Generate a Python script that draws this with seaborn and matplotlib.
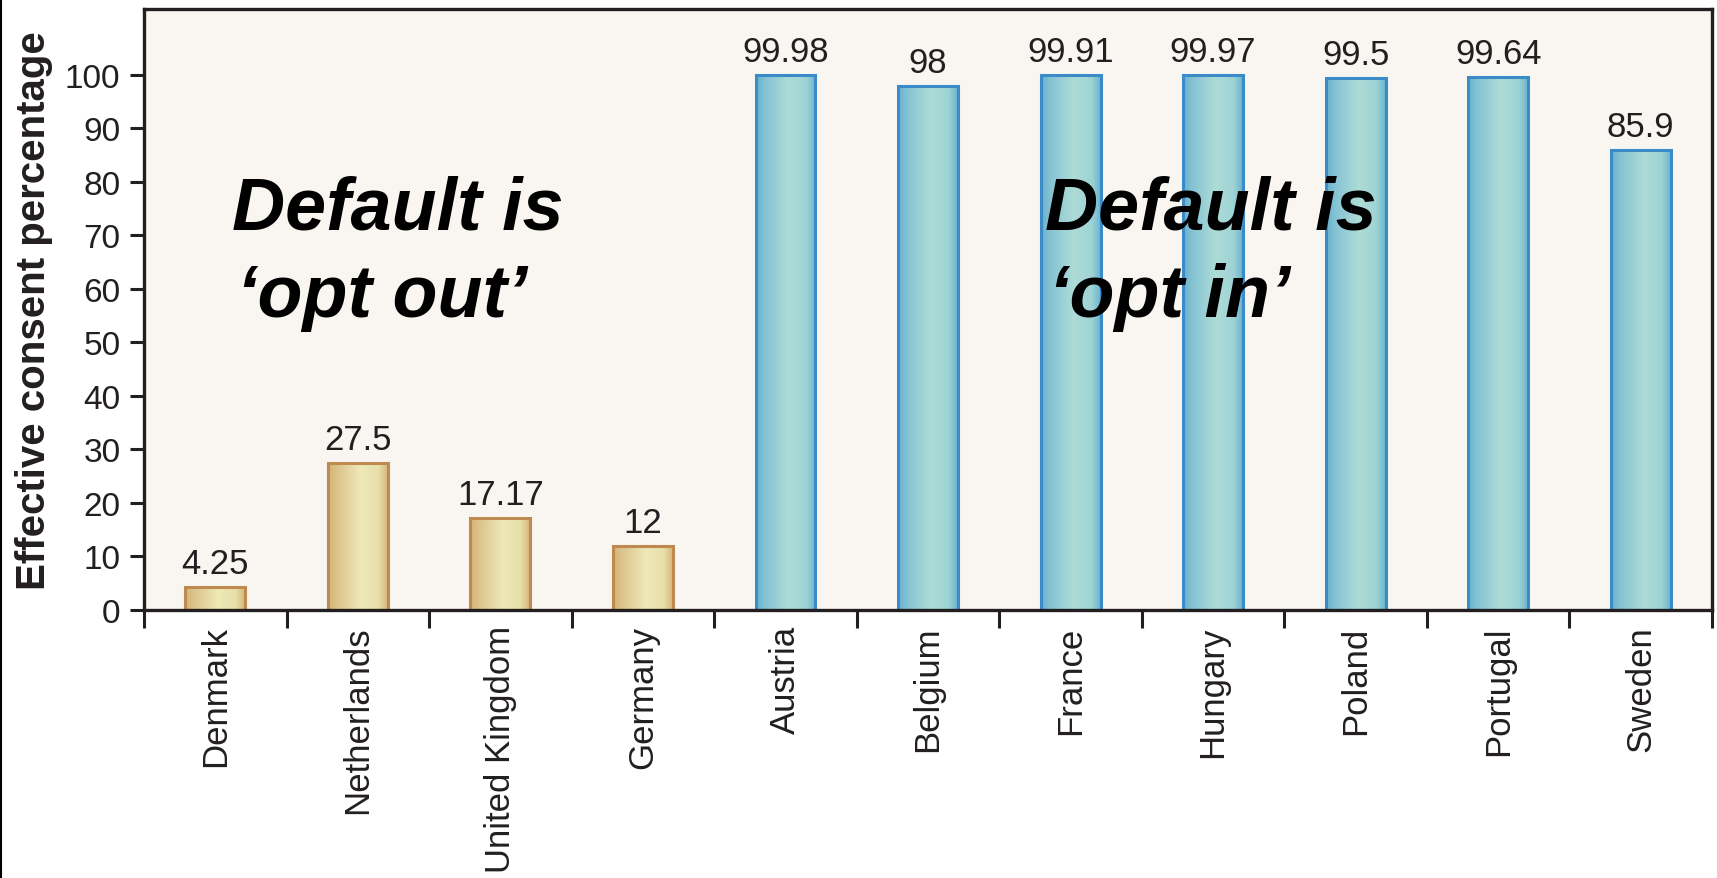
import numpy as np
import pandas as pd
import matplotlib
matplotlib.use('Agg')
import matplotlib.pyplot as plt
from matplotlib.colors import to_rgb
from matplotlib.lines import Line2D
import seaborn as sns

# data
countries = ['Denmark', 'Netherlands', 'United Kingdom', 'Germany', 'Austria',
             'Belgium', 'France', 'Hungary', 'Poland', 'Portugal', 'Sweden']
consent = [4.25, 27.5, 17.17, 12, 99.98, 98, 99.91, 99.97, 99.5, 99.64, 85.9]
value_labels = ['4.25', '27.5', '17.17', '12', '99.98', '98', '99.91',
                '99.97', '99.5', '99.64', '85.9']
default = ['opt out'] * 4 + ['opt in'] * 7

edge_colors = {'opt out': '#BF8A50', 'opt in': '#3C8BC9'}
grad_stops = {'opt out': ['#D3B478', '#DCC48C', '#EEE9B7', '#E8DFA9', '#D5B87E'],
              'opt in': ['#68B1CE', '#85C3D3', '#AEDCD7', '#9ED3D5', '#6CB4CF']}
stop_pos = [0.0, 0.15, 0.55, 0.85, 1.0]


def gradient(stops, n=64):
    rgb = np.array([to_rgb(c) for c in stops])
    t = np.linspace(0, 1, n)
    cols = np.stack([np.interp(t, stop_pos, rgb[:, k]) for k in range(3)], axis=-1)
    return cols[np.newaxis, :, :]


df = pd.DataFrame({'country': countries, 'consent': consent, 'default': default})

sns.set_style('white')
plt.rcParams['font.family'] = ['Liberation Sans', 'DejaVu Sans']

fig = plt.figure(figsize=(17.17, 8.79), dpi=100)
ax = fig.add_axes([0.0839, 0.3049, 0.9132, 0.6837])
ax.set_facecolor('#F9F6F1')

sns.barplot(data=df, x='country', y='consent', hue='default', dodge=False,
            palette=edge_colors, width=0.42, legend=False, ax=ax,
            linewidth=2.2, saturation=1)

ax.set_xlim(-0.5, 10.5)
ax.set_ylim(0, 112.3)

for patch in list(ax.patches):
    x0, y0 = patch.get_x(), patch.get_y()
    w, h = patch.get_width(), patch.get_height()
    idx = int(round(x0 + w / 2))
    grp = default[idx]
    img = ax.imshow(gradient(grad_stops[grp]), extent=[x0, x0 + w, y0, y0 + h],
                    aspect='auto', interpolation='bilinear', zorder=1.5)
    img.set_clip_path(patch)
    patch.set_facecolor('none')
    patch.set_edgecolor(edge_colors[grp])
    patch.set_linewidth(2.2)
    patch.set_zorder(2)

ax.set_xlim(-0.5, 10.5)
ax.set_ylim(0, 112.3)

# value labels above bars
for i, v in enumerate(consent):
    ax.annotate(value_labels[i], (i, v), xytext=(0, 5), textcoords='offset points',
                ha='center', va='bottom', fontsize=25, color='#231F20')

# annotations
txt_kw = dict(fontsize=53, fontweight='bold', fontstyle='italic', color='black',
              ha='left', va='baseline', zorder=5)
ax.text(0.12, 71.2, 'Default is', **txt_kw)
ax.text(0.15, 55.0, '\u2018opt out\u2019', **txt_kw)
ax.text(5.82, 71.2, 'Default is', **txt_kw)
ax.text(5.85, 55.0, '\u2018opt in\u2019', **txt_kw)

# axes styling
for sp in ax.spines.values():
    sp.set_visible(True)
    sp.set_color('#231F20')
    sp.set_linewidth(2.4)

ax.set_yticks(np.arange(0, 101, 10))
ax.tick_params(axis='y', which='major', direction='out', length=10, width=2.2,
               color='#231F20', labelsize=24, labelcolor='#231F20', pad=7, left=True)
ax.set_xticks(range(len(countries)))
ax.set_xticklabels(countries, rotation=90, ha='center', va='top')
ax.tick_params(axis='x', which='major', length=0, labelsize=25,
               labelcolor='#231F20', pad=11, bottom=True)
ax.set_xticks(np.arange(-0.5, len(countries), 1), minor=True)
ax.tick_params(axis='x', which='minor', direction='out', length=13, width=2.2,
               color='#231F20', bottom=True)

ax.set_xlabel('')
ax.set_ylabel('Effective consent percentage', fontsize=29, fontweight='bold',
              color='#231F20')
ax.yaxis.set_label_coords(-0.058, 0.5)

# slide border on the left edge
fig.add_artist(Line2D([0.0006, 0.0006], [0, 1], transform=fig.transFigure,
                      color='black', linewidth=1.5))

fig.savefig('out.png', dpi=100, facecolor='white')
